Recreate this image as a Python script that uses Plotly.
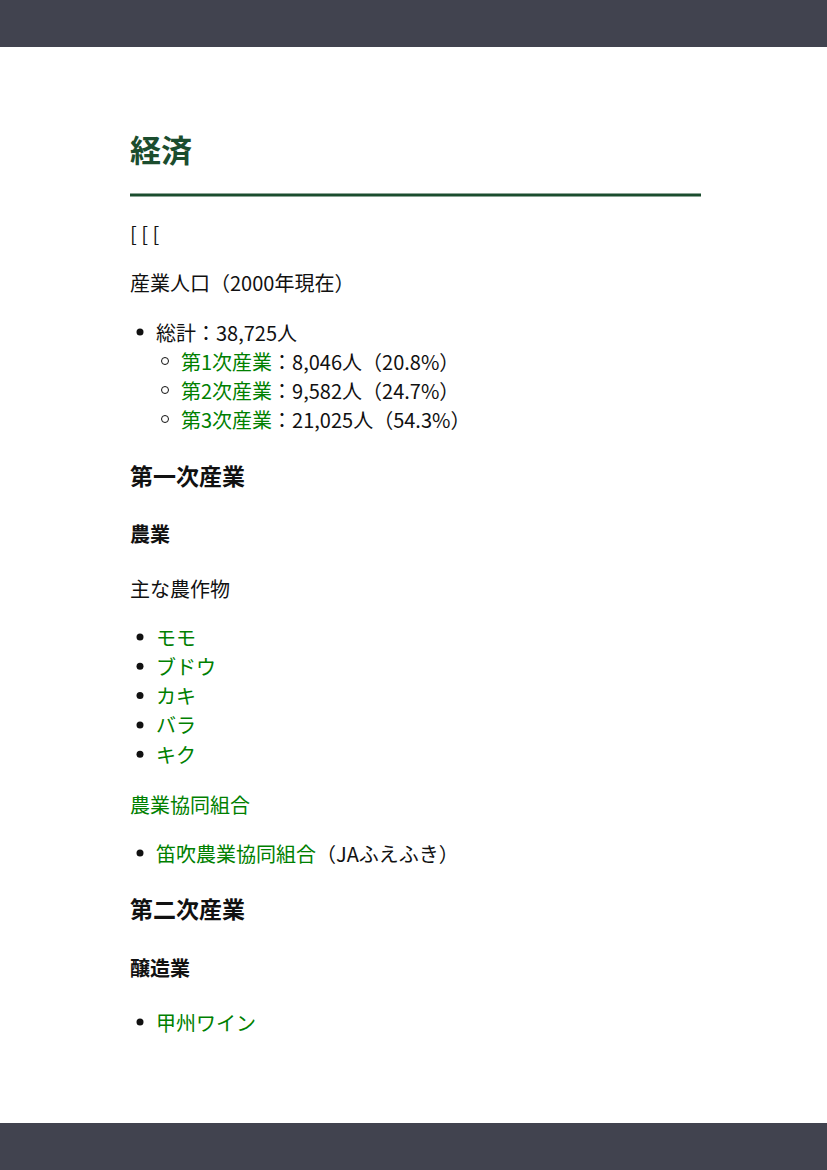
import plotly.graph_objects as go

W, H = 827, 1170
GREEN = "#008000"
DARK = "#1b4d2e"
BAR = "#41434f"
FONT = "Noto Sans CJK JP"

title = "経済"
bracket_line = "[ [ ["
pop_heading = "産業人口（2000年現在）"
pop_total = "総計：38,725人"
sector_names = ["第1次産業", "第2次産業", "第3次産業"]
sector_people = ["8,046", "9,582", "21,025"]
sector_share = ["20.8", "24.7", "54.3"]
crops = ["モモ", "ブドウ", "カキ", "バラ", "キク"]
coop_link = "農業協同組合"
coop_items = [("笛吹農業協同組合", "（JAふえふき）")]
brewing_items = ["甲州ワイン"]


def green(s):
    return f"<span style='color:{GREEN}'>{s}</span>"


fig = go.Figure()
ann = []
bullets_x, bullets_y = [], []
rings_x, rings_y = [], []


def text(x, y, s, size=20, color="#111111", bold=False):
    if bold:
        s = f"<b>{s}</b>"
    ann.append(dict(x=x, y=y, text=s, showarrow=False, xanchor="left", yanchor="middle",
                    font=dict(family=FONT, size=size, color=color)))


text(128, 148, title, size=31, color=DARK, bold=True)
text(128, 233, bracket_line)
text(128, 282, pop_heading)

y = 332
bullets_x.append(140); bullets_y.append(y)
text(154, y, pop_total)
for name, ppl, pct in zip(sector_names, sector_people, sector_share):
    y += 29
    rings_x.append(165); rings_y.append(y)
    text(179, y, green(name) + f"：{ppl}人（{pct}%）")

text(128, 475, "第一次産業", size=23, bold=True)
text(128, 533, "農業", size=20, bold=True)
text(128, 588, "主な農作物")
y = 637
for c in crops:
    bullets_x.append(140); bullets_y.append(y)
    text(154, y, green(c))
    y += 29.3

text(128, 804, green(coop_link))
y = 853
for link, rest in coop_items:
    bullets_x.append(140); bullets_y.append(y)
    text(154, y, green(link) + rest)
    y += 29

text(128, 908, "第二次産業", size=23, bold=True)
text(128, 967, "醸造業", size=20, bold=True)
y = 1022
for b in brewing_items:
    bullets_x.append(140); bullets_y.append(y)
    text(154, y, green(b))
    y += 29

fig.add_trace(go.Scatter(x=bullets_x, y=bullets_y, mode="markers", hoverinfo="skip",
                         marker=dict(size=7, color="#111111")))
fig.add_trace(go.Scatter(x=rings_x, y=rings_y, mode="markers", hoverinfo="skip",
                         marker=dict(size=7, color="white", line=dict(color="#111111", width=1))))

shapes = [
    dict(type="rect", x0=0, x1=W, y0=0, y1=47, fillcolor=BAR, line_width=0, layer="below"),
    dict(type="rect", x0=0, x1=W, y0=1123, y1=H, fillcolor=BAR, line_width=0, layer="below"),
    dict(type="line", x0=130, x1=701, y0=195, y1=195, line=dict(color=DARK, width=3)),
]

fig.update_layout(
    width=W, height=H,
    margin=dict(l=0, r=0, t=0, b=0),
    paper_bgcolor="white", plot_bgcolor="white",
    showlegend=False,
    xaxis=dict(range=[0, W], visible=False, fixedrange=True),
    yaxis=dict(range=[H, 0], visible=False, fixedrange=True),
    annotations=ann, shapes=shapes,
)
fig.write_html("out.html", config={"displayModeBar": False},
               post_script="document.body.style.margin='0';document.body.style.overflow='hidden';")
